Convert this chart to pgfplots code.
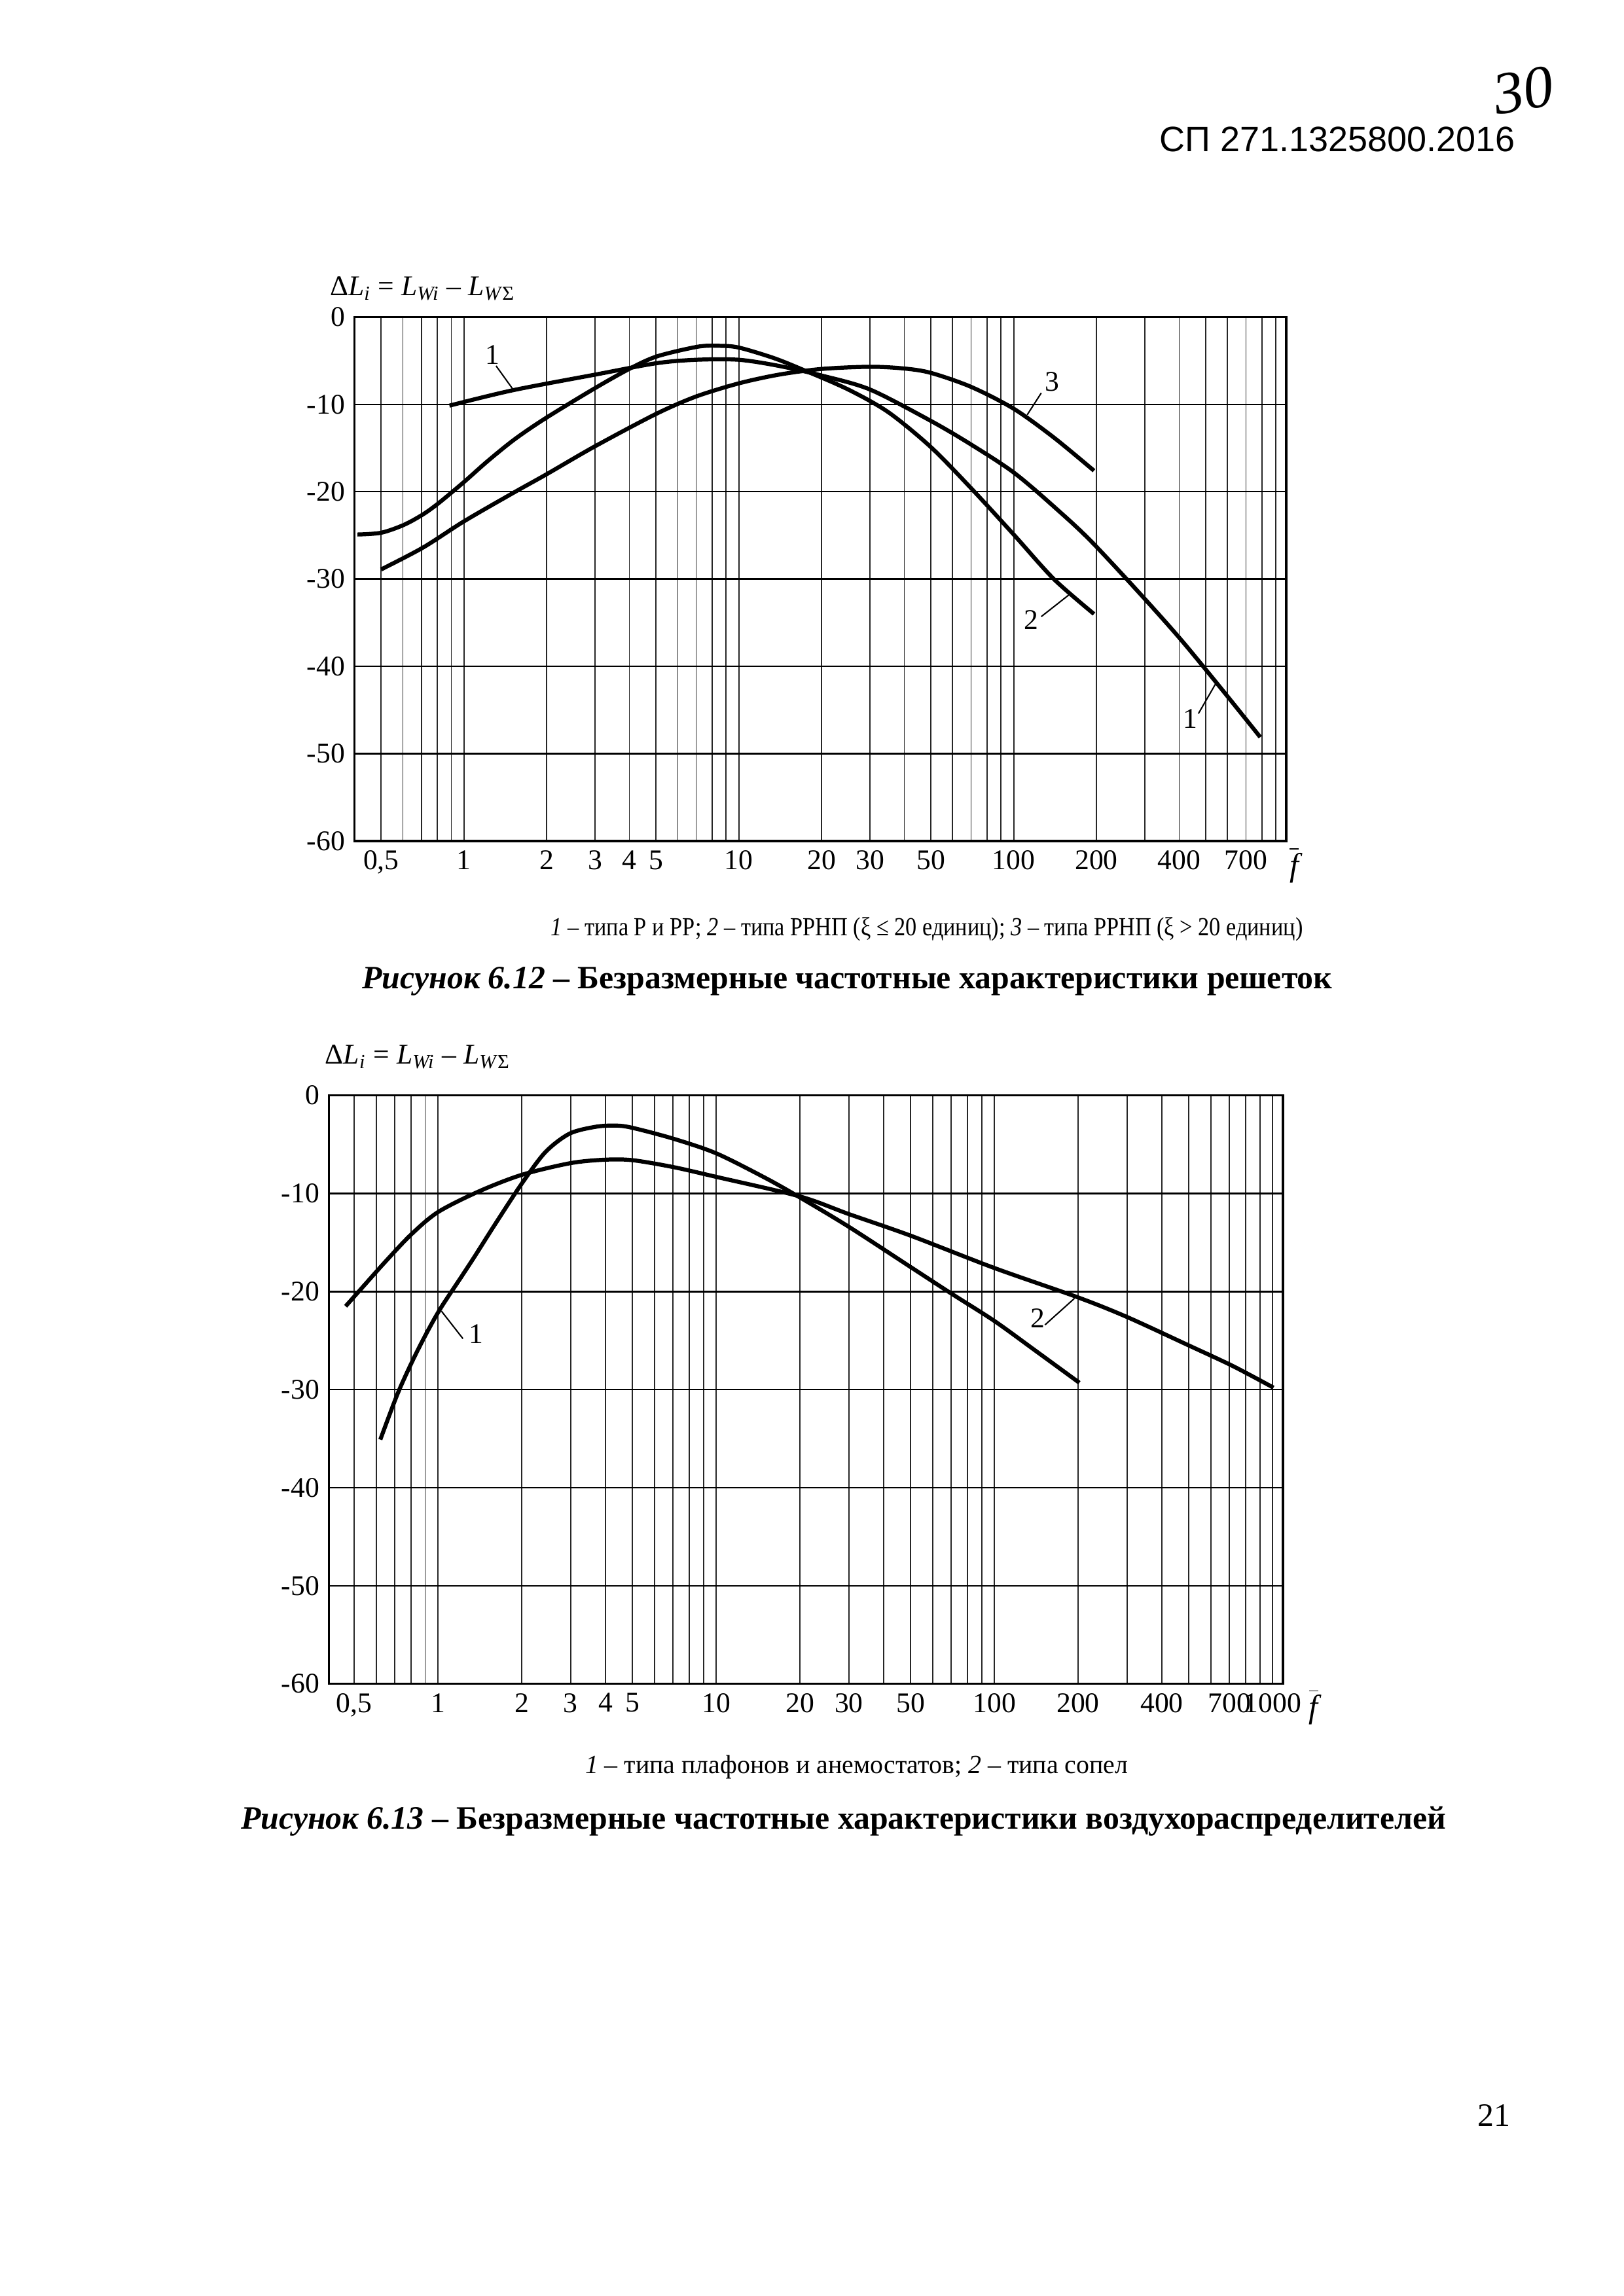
\documentclass[border=0pt]{standalone}
\usepackage{fontspec}
\setmainfont{Liberation Serif}
\newfontfamily\headfont{Liberation Sans}
\usepackage{pgfplots}
\pgfplotsset{compat=1.18}
\tikzset{curve/.style={black, line width=1.5pt, smooth, tension=0.5},
         leader/.style={black, line width=0.5pt},
         numlab/.style={font=\fontsize{10.5}{12}\selectfont, inner sep=1pt}}
\begin{document}
\begin{tikzpicture}
\useasboundingbox (0,0) rectangle (210mm,-297mm);
\fill[white] (0,0) rectangle (210mm,-297mm);
% page header
\node[anchor=east, font=\headfont\fontsize{13}{15}\selectfont, inner sep=0pt] at (196mm,-18mm) {СП 271.1325800.2016};
\node[rotate=10, font=\fontsize{22}{24}\selectfont\itshape, inner sep=0pt] at (197mm,-11.7mm) {30};
\node[font=\fontsize{12}{14}\selectfont, inner sep=0pt] at (193.2mm,-273.6mm) {21};

% ---------- Figure 6.12 ----------
\node[anchor=west, font=\fontsize{10.5}{12}\selectfont, inner sep=0pt] at (42.6mm,-37.3mm)
  {Δ\textit{L}\textsubscript{\textit{i}} = \textit{L}\textsubscript{\textit{Wi}} – \textit{L}\textsubscript{\textit{W}Σ}};
\begin{axis}[xmode=log, scale only axis, at={(45.85mm,-108.8mm)}, anchor=south west,
  width=120.5mm, height=67.8mm, xmin=0.40, xmax=980, ymin=-60, ymax=0,
  ytick={-60,-50,-40,-30,-20,-10,0},
  yticklabels={-60,-50,-40,-30,-20,-10,0},
  xtick={0.5,1,2,3,4,5,10,20,30,50,100,200,400,700},
  xticklabels={{0,5},1,2,3,4,5,10,20,30,50,100,200,400,700},
  minor xtick={0.5,0.6,0.7,0.8,0.9,1,2,3,4,5,6,7,8,9,10,20,30,40,50,60,70,80,90,100,200,300,400,500,600,700,800,900},
  xminorgrids=true, ymajorgrids=true, xmajorgrids=false,
  minor grid style={black!85, line width=0.45pt},
  major grid style={black, line width=0.6pt},
  axis line style={black, line width=0.8pt},
  major tick length=0pt, minor tick length=0pt,
  tick label style={font=\fontsize{10.5}{12}\selectfont, text=black}]
% curve 1 (type P and PP)
\addplot[curve] coordinates {(0.886,-10.15) (1.5,-8.4) (3,-6.6) (5,-5.3) (7,-4.9) (10,-4.9) (14,-5.6) (20,-6.7) (30,-8.3) (50,-11.9) (70,-14.6) (100,-17.8) (140,-21.7) (200,-26.3) (400,-36.7) (789,-48.1)};
% curve 2 (RRNP, xi <= 20)
\addplot[curve] coordinates {(0.41,-24.9) (0.5,-24.7) (0.605,-23.8) (0.71,-22.6) (0.81,-21.3) (1,-18.9) (1.22,-16.5) (1.53,-14.0) (1.98,-11.6) (2.98,-8.2) (4.02,-5.9) (5.05,-4.5) (7.1,-3.4) (8.5,-3.3) (10,-3.5) (13.4,-4.7) (17.3,-6.1) (25,-8.3) (35,-10.9) (50,-14.9) (70,-19.6) (100,-24.9) (140,-30.0) (196,-34.0)};
% curve 3 (RRNP, xi > 20)
\addplot[curve] coordinates {(0.5,-28.9) (0.71,-26.4) (1,-23.4) (1.5,-20.2) (2,-18.0) (3,-14.8) (5,-11.1) (7,-9.1) (10,-7.6) (14,-6.6) (20,-5.95) (30,-5.7) (40,-5.9) (50,-6.4) (70,-8.0) (100,-10.5) (140,-13.8) (196,-17.6)};
\node[numlab] at (axis cs:1.27,-4.3) {1};
\draw[leader] (axis cs:1.31,-5.6) -- (axis cs:1.51,-8.3);
\node[numlab] at (axis cs:138,-7.4) {3};
\draw[leader] (axis cs:126,-8.7) -- (axis cs:112,-11.2);
\node[numlab] at (axis cs:116,-34.7) {2};
\draw[leader] (axis cs:126,-34.3) -- (axis cs:159,-31.8);
\node[numlab] at (axis cs:440,-46.0) {1};
\draw[leader] (axis cs:470,-45.4) -- (axis cs:545,-41.9);
\end{axis}
\node[font=\fontsize{12}{14}\selectfont] at (167.4mm,-111.9mm) {$\overline{\mbox{\itshape f}}$};
\node[font=\fontsize{9.6}{12}\selectfont] at (119.9mm,-120.2mm)
  {\scalebox{0.86}[1]{\textit{1} – типа Р и РР; \textit{2} – типа РРНП (ξ ≤ 20 единиц); \textit{3} – типа РРНП (ξ > 20 единиц)}};
\node[font=\fontsize{12}{14}\selectfont\bfseries] at (109.6mm,-126.9mm)
  {\textit{Рисунок 6.12} – Безразмерные частотные характеристики решеток};

% ---------- Figure 6.13 ----------
\node[anchor=west, font=\fontsize{10.5}{12}\selectfont, inner sep=0pt] at (42.0mm,-136.7mm)
  {Δ\textit{L}\textsubscript{\textit{i}} = \textit{L}\textsubscript{\textit{Wi}} – \textit{L}\textsubscript{\textit{W}Σ}};
\begin{axis}[xmode=log, scale only axis, at={(42.55mm,-217.8mm)}, anchor=south west,
  width=123.4mm, height=76.1mm, xmin=0.406, xmax=1090, ymin=-60, ymax=0,
  ytick={-60,-50,-40,-30,-20,-10,0},
  yticklabels={-60,-50,-40,-30,-20,-10,0},
  xtick={0.5,1,2,3,4,5,10,20,30,50,100,200,400,700,1000},
  xticklabels={{0,5},1,2,3,4,5,10,20,30,50,100,200,400,700,1000},
  minor xtick={0.5,0.6,0.7,0.8,0.9,1,2,3,4,5,6,7,8,9,10,20,30,40,50,60,70,80,90,100,200,300,400,500,600,700,800,900,1000},
  xminorgrids=true, ymajorgrids=true, xmajorgrids=false,
  minor grid style={black!85, line width=0.45pt},
  major grid style={black, line width=0.6pt},
  axis line style={black, line width=0.8pt},
  major tick length=0pt, minor tick length=0pt,
  tick label style={font=\fontsize{10.5}{12}\selectfont, text=black}]
% curve 1 (ceiling diffusers and anemostats)
\addplot[curve] coordinates {(0.621,-35.1) (0.717,-30.4) (0.819,-26.8) (0.92,-24.0) (1.028,-21.6) (1.214,-18.5) (1.357,-16.4) (1.6,-13.2) (1.99,-9.1) (2.43,-5.8) (2.97,-3.9) (3.68,-3.2) (4.35,-3.07) (5,-3.3) (7,-4.4) (10,-5.9) (15,-8.4) (20,-10.4) (30,-13.4) (50,-17.5) (70,-20.2) (100,-23.0) (140,-26.0) (202,-29.3)};
% curve 2 (nozzles)
\addplot[curve] coordinates {(0.466,-21.5) (0.55,-19.2) (0.65,-16.9) (0.8,-14.2) (1,-11.9) (1.4,-9.8) (2,-8.1) (3,-6.9) (4,-6.55) (5,-6.6) (7,-7.3) (10,-8.3) (20,-10.3) (30,-12.1) (50,-14.3) (100,-17.6) (200,-20.6) (300,-22.6) (500,-25.5) (720,-27.6) (1007,-29.8)};
\node[numlab] at (axis cs:1.37,-24.3) {1};
\draw[leader] (axis cs:1.23,-24.8) -- (axis cs:1.03,-22.0);
\node[numlab] at (axis cs:143,-22.7) {2};
\draw[leader] (axis cs:152,-23.4) -- (axis cs:194,-20.7);
\end{axis}
\node[font=\fontsize{12}{14}\selectfont] at (169.9mm,-220.8mm) {$\overline{\mbox{\itshape f}}$};
\node[font=\fontsize{9.6}{12}\selectfont] at (110.8mm,-228.6mm)
  {\textit{1} – типа плафонов и анемостатов; \textit{2} – типа сопел};
\node[font=\fontsize{12}{14}\selectfont\bfseries] at (109.1mm,-235.6mm)
  {\textit{Рисунок 6.13} – Безразмерные частотные характеристики воздухораспределителей};
\end{tikzpicture}
\end{document}
